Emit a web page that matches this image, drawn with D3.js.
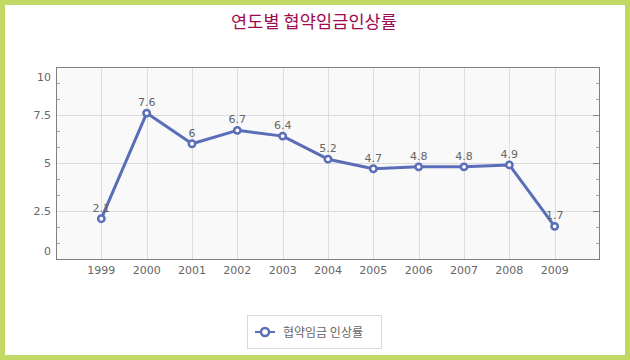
<!DOCTYPE html>
<html><head><meta charset="utf-8">
<script src="https://cdn.jsdelivr.net/npm/d3@7"></script>
<style>
html,body{margin:0;padding:0;background:#fff;}
svg{display:block;}
</style></head>
<body>
<svg id="chart" width="630" height="360"></svg>
<script>
const title = "연도별 협약임금인상률";
const seriesName = "협약임금 인상률";
const years = ["1999","2000","2001","2002","2003","2004","2005","2006","2007","2008","2009"];
const values = [2.1, 7.6, 6, 6.7, 6.4, 5.2, 4.7, 4.8, 4.8, 4.9, 1.7];
const valueLabels = ["2.1","7.6","6","6.7","6.4","5.2","4.7","4.8","4.8","4.9","1.7"];
const yTicks = [0, 2.5, 5, 7.5, 10];
const yTickLabels = ["0","2.5","5","7.5","10"];

const svg = d3.select("#chart");
const W = 630, H = 360;
const plot = {l:56, r:600, t:67, b:259};
const lineColor = "#5a6db8";
const numFont = "'DejaVu Sans', Verdana, sans-serif";
const krFont = "'Noto Sans CJK KR', sans-serif";

// border
svg.append("rect").attr("x",2.5).attr("y",2.5).attr("width",W-5).attr("height",H-5)
  .attr("fill","#fff").attr("stroke","#c1d963").attr("stroke-width",5);

// title
svg.append("text").attr("x",W/2-1).attr("y",28).attr("text-anchor","middle")
  .attr("font-family",krFont).attr("font-size",17.5).attr("fill","#9e0a50")
  .attr("letter-spacing","0.1px").text(title);

const x = d3.scalePoint().domain(years).range([plot.l, plot.r]).padding(1);
const y = d3.scaleLinear().domain([0,10]).range([plot.b, plot.t]);

// plot background
svg.append("rect").attr("x",plot.l).attr("y",plot.t).attr("width",plot.r-plot.l).attr("height",plot.b-plot.t)
  .attr("fill","#f9f9f9");

// grid
const g = svg.append("g").attr("shape-rendering","crispEdges");
g.selectAll("line.hg").data(yTicks.filter(v=>v>0&&v<10)).join("line")
  .attr("x1",plot.l).attr("x2",plot.r).attr("y1",d=>Math.round(y(d))+0.5).attr("y2",d=>Math.round(y(d))+0.5)
  .attr("stroke","#dcdcdc");
g.selectAll("line.vg").data(years).join("line")
  .attr("x1",d=>Math.round(x(d))+0.5).attr("x2",d=>Math.round(x(d))+0.5).attr("y1",plot.t).attr("y2",plot.b)
  .attr("stroke","#dcdcdc");

// minor ticks
const minor = d3.range(0, 10.0001, 2.5/3).filter(v => Math.abs(v/2.5 - Math.round(v/2.5)) > 0.01);
g.selectAll("line.ml").data(minor).join("line")
  .attr("x1",plot.l).attr("x2",plot.l+4).attr("y1",d=>Math.round(y(d))+0.5).attr("y2",d=>Math.round(y(d))+0.5)
  .attr("stroke","#aaa");
g.selectAll("line.mr").data(minor).join("line")
  .attr("x1",plot.r-4).attr("x2",plot.r).attr("y1",d=>Math.round(y(d))+0.5).attr("y2",d=>Math.round(y(d))+0.5)
  .attr("stroke","#aaa");
g.selectAll("line.Mr").data(yTicks.filter(v=>v>0&&v<10)).join("line")
  .attr("x1",plot.r-7).attr("x2",plot.r).attr("y1",d=>Math.round(y(d))+0.5).attr("y2",d=>Math.round(y(d))+0.5)
  .attr("stroke","#888");

// frame
g.append("rect").attr("x",plot.l+0.5).attr("y",plot.t+0.5).attr("width",plot.r-plot.l-1).attr("height",plot.b-plot.t)
  .attr("fill","none").attr("stroke","#808080");

// y labels
svg.selectAll("text.yl").data(yTicks).join("text")
  .attr("x",plot.l-5)
  .attr("y",(d,i)=> y(d) + (i===yTicks.length-1 ? 9.5 : (i===0 ? -8.5 : 0)) + 4)
  .attr("text-anchor","end").attr("font-family",numFont).attr("font-size",11).attr("fill","#666")
  .text((d,i)=>yTickLabels[i]);

// x labels
svg.selectAll("text.xl").data(years).join("text")
  .attr("x",d=>x(d)).attr("y",274).attr("text-anchor","middle")
  .attr("font-family",numFont).attr("font-size",11).attr("fill","#666").text(d=>d);

// line
const pts = years.map((yr,i)=>({yr, v:values[i], lab:valueLabels[i]}));
svg.append("path").datum(pts)
  .attr("d", d3.line().x(d=>x(d.yr)).y(d=>y(d.v)))
  .attr("fill","none").attr("stroke",lineColor).attr("stroke-width",3).attr("stroke-linejoin","round");

// value labels
svg.selectAll("text.vl").data(pts).join("text")
  .attr("x",d=>x(d.yr)).attr("y",d=>y(d.v)-7).attr("text-anchor","middle")
  .attr("font-family",numFont).attr("font-size",11).attr("fill","#666").text(d=>d.lab);

// markers
svg.selectAll("circle.pt").data(pts).join("circle")
  .attr("cx",d=>x(d.yr)).attr("cy",d=>y(d.v)).attr("r",3.2)
  .attr("fill","#fff").attr("stroke",lineColor).attr("stroke-width",2.5);

// legend
const lg = svg.append("g");
lg.append("rect").attr("x",247.5).attr("y",315.5).attr("width",134).attr("height",33)
  .attr("fill","#fff").attr("stroke","#d9d9d9").attr("shape-rendering","crispEdges");
lg.append("line").attr("x1",255).attr("x2",275).attr("y1",332).attr("y2",332)
  .attr("stroke",lineColor).attr("stroke-width",2);
lg.append("circle").attr("cx",265).attr("cy",332).attr("r",4)
  .attr("fill","#fff").attr("stroke",lineColor).attr("stroke-width",2.5);
lg.append("text").attr("x",283).attr("y",336.5).attr("font-family",krFont).attr("font-size",12)
  .attr("fill","#666").text(seriesName);
</script>
</body></html>
